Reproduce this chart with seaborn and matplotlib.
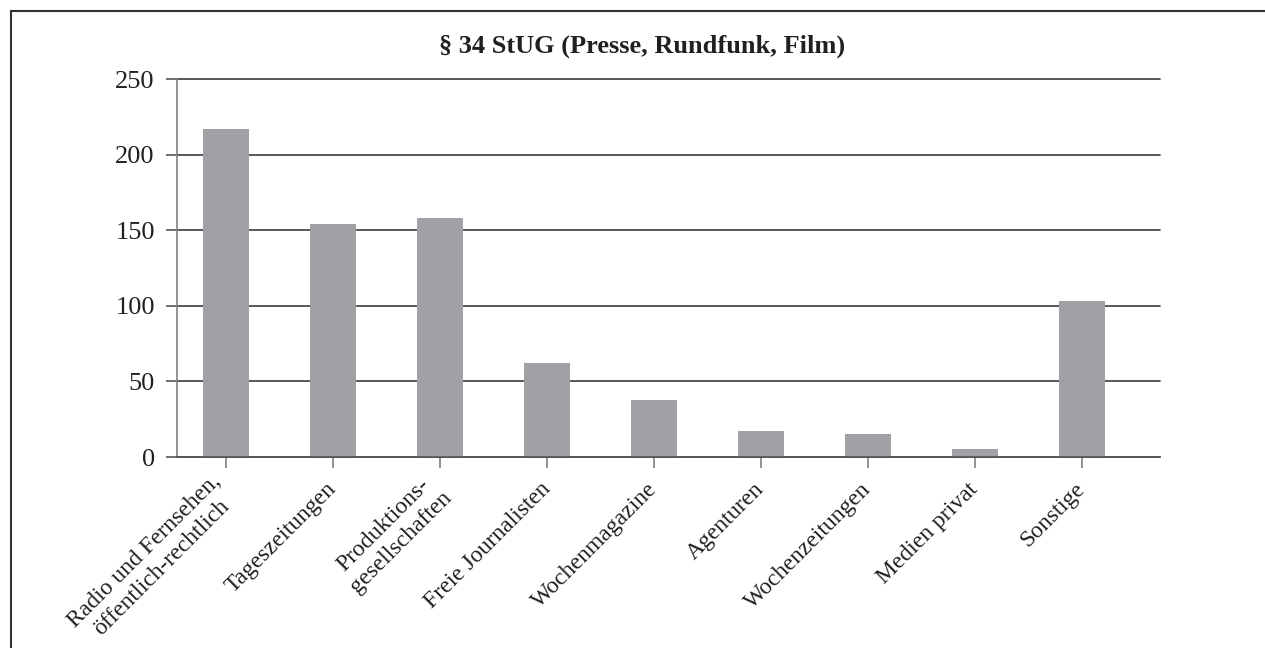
import matplotlib
matplotlib.use('Agg')
import matplotlib.pyplot as plt
from matplotlib.patches import Rectangle
import seaborn as sns

# values
categories = ['Radio und Fernsehen,\nöffentlich-rechtlich', 'Tageszeitungen',
              'Produktions-\ngesellschaften', 'Freie Journalisten', 'Wochenmagazine',
              'Agenturen', 'Wochenzeitungen', 'Medien privat', 'Sonstige']
values = [217, 154, 158, 62, 38, 17, 15, 5, 103]
yticks = [0, 50, 100, 150, 200, 250]
title = '§ 34 StUG (Presse, Rundfunk, Film)'

sns.set_style('white')
plt.rcParams['font.family'] = ['Liberation Serif', 'DejaVu Serif']
text_col = '#231f20'

fig = plt.figure(figsize=(12.65, 6.48), dpi=100)
ax = fig.add_axes([177 / 1265, 1 - 457 / 648, (1160 - 177) / 1265, (457 - 79) / 648])

sns.barplot(x=categories, y=values, color='#a0a1a5', saturation=1, width=0.43,
            linewidth=0, ax=ax)

ax.set_ylim(0, 250)
ax.set_xlim(-0.458, 8.73)
ax.set_yticks(yticks)
ax.yaxis.grid(True, color='#3c3c3c', lw=1.2)
ax.set_axisbelow(True)
for gl in ax.get_ygridlines():
    gl.set_clip_on(False)
ax.set_xlabel('')
ax.set_ylabel('')

for s in ['top', 'right']:
    ax.spines[s].set_visible(False)
ax.spines['left'].set_color('#808080')
ax.spines['left'].set_linewidth(1.2)
ax.spines['bottom'].set_color('#555555')
ax.spines['bottom'].set_linewidth(1.2)

ax.tick_params(axis='y', left=True, length=8, width=1.2, color='#555555',
               pad=8, labelsize=19, labelcolor=text_col)
ax.tick_params(axis='x', bottom=True, length=8, width=1.2, color='#808080',
               pad=13, labelsize=17, labelcolor=text_col)
ax.set_xticks(range(len(categories)))
ax.set_xticklabels(categories, rotation=45, ha='right', va='center',
                   rotation_mode='anchor', multialignment='center')

fig.text(642 / 1265, 1 - 46 / 648, title, ha='center', va='center',
         fontsize=19, fontweight='bold', color=text_col)

# frame around the chart (cut off at the right and bottom edges)
frame = Rectangle((11 / 1265, -0.1), 1.2, (648 - 11) / 648 + 0.1,
                  transform=fig.transFigure, fill=False, ec='#333333', lw=1.5)
fig.patches.append(frame)

fig.savefig('out.png', dpi=100)
